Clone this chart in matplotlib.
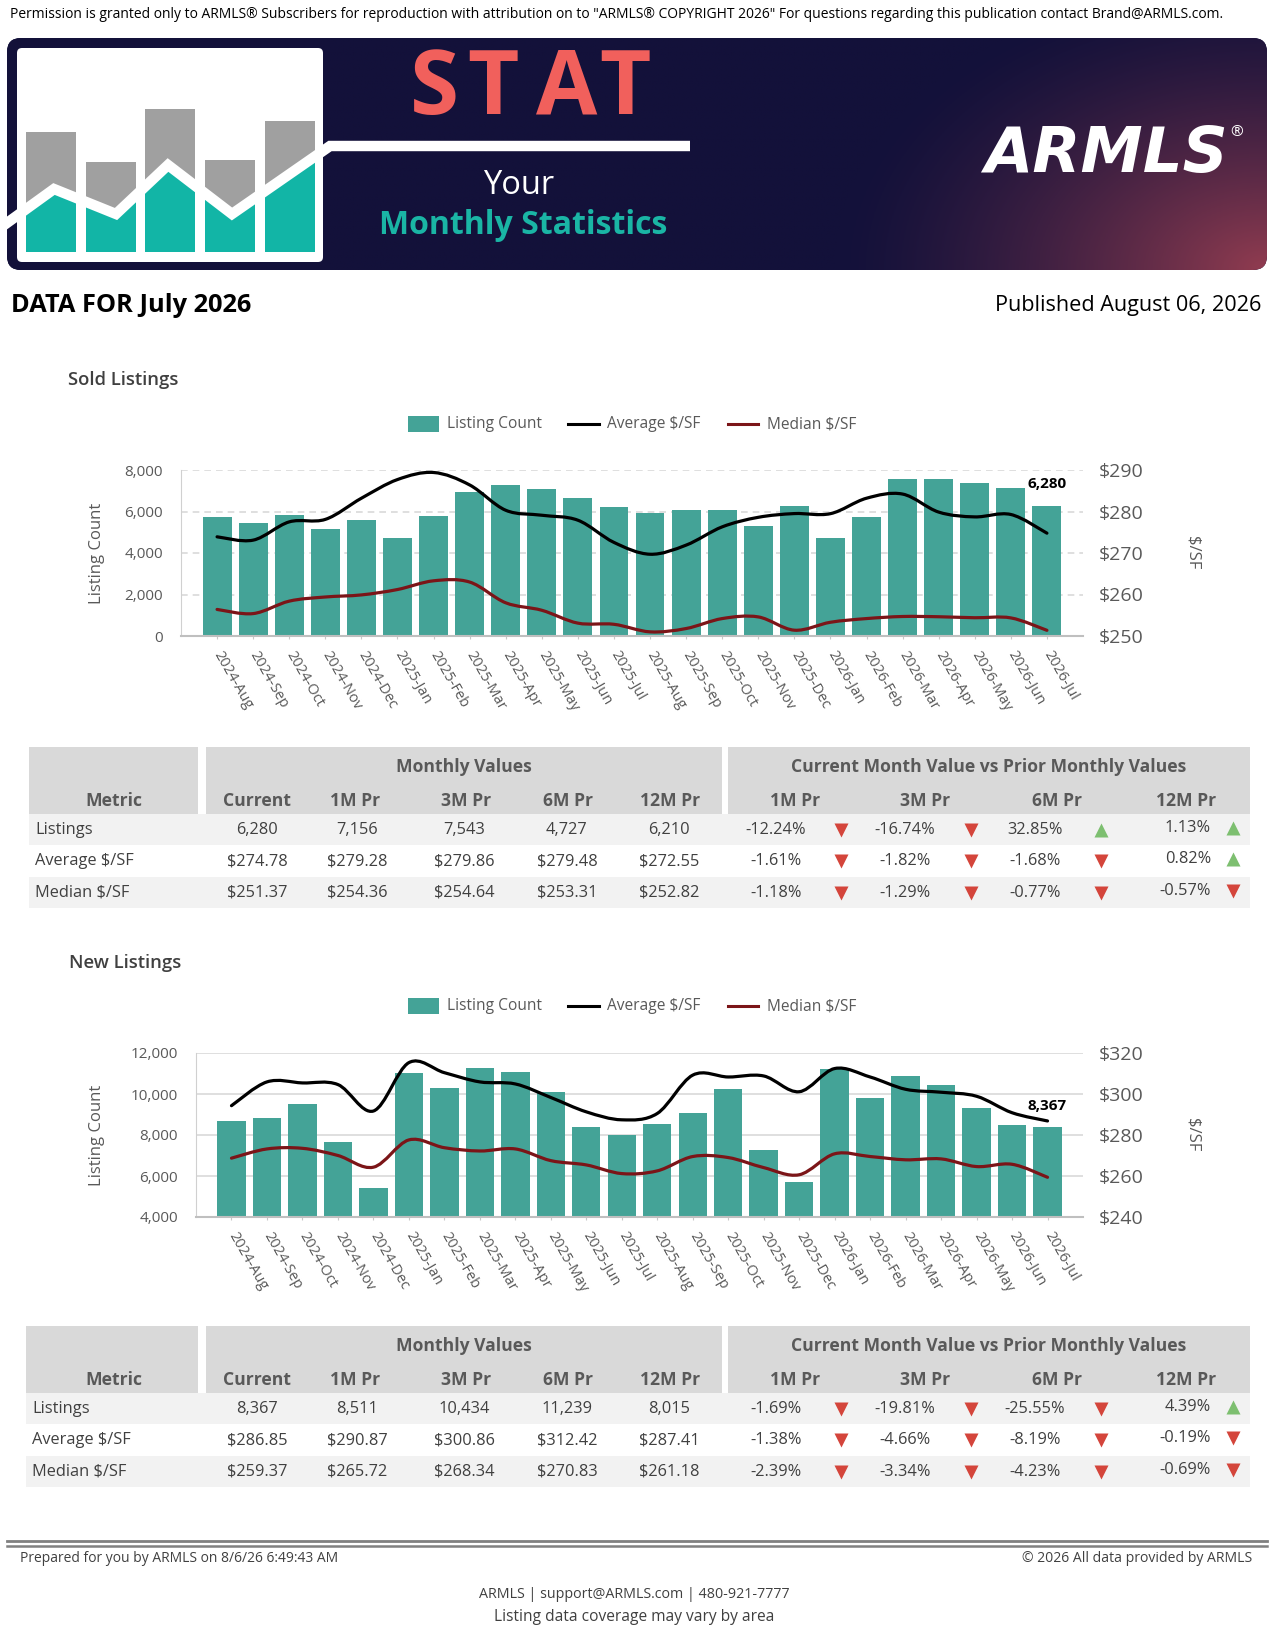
import numpy as np
import matplotlib
matplotlib.use('agg')
import matplotlib.pyplot as plt
from matplotlib.patches import Rectangle, FancyBboxPatch, PathPatch, Polygon
from matplotlib.path import Path

plt.rcParams['font.family'] = ['Open Sans', 'DejaVu Sans']

W, H = 1275, 1650
TEAL = '#44a397'
MAROON = '#7b1518'
GRAY_TXT = '#595959'
DARK_TXT = '#404040'

# ---- chart data ----
months = ['2024-Aug', '2024-Sep', '2024-Oct', '2024-Nov', '2024-Dec', '2025-Jan',
          '2025-Feb', '2025-Mar', '2025-Apr', '2025-May', '2025-Jun', '2025-Jul',
          '2025-Aug', '2025-Sep', '2025-Oct', '2025-Nov', '2025-Dec', '2026-Jan',
          '2026-Feb', '2026-Mar', '2026-Apr', '2026-May', '2026-Jun', '2026-Jul']

sold_count = [5730, 5440, 5830, 5150, 5590, 4720, 5780, 6940, 7280, 7090, 6650, 6210,
              5940, 6070, 6070, 5300, 6260, 4727, 5730, 7570, 7543, 7370, 7156, 6280]
sold_avg = [273.9, 273.1, 277.5, 278.1, 283.2, 287.7, 289.4, 286.4, 280.3, 279.1, 277.9, 272.55,
            269.7, 271.9, 276.3, 278.6, 279.5, 279.48, 283.2, 284.2, 279.86, 278.7, 279.28, 274.78]
sold_med = [256.4, 255.4, 258.4, 259.4, 259.9, 261.2, 263.3, 263.0, 258.0, 256.2, 253.1, 252.82,
            251.0, 251.8, 254.2, 254.6, 251.4, 253.31, 254.2, 254.7, 254.64, 254.4, 254.36, 251.37]

new_count = [8680, 8830, 9510, 7660, 5430, 11010, 10280, 11260, 11060, 10090, 8390, 8015,
             8530, 9070, 10230, 7270, 5720, 11239, 9800, 10870, 10434, 9310, 8511, 8367]
new_avg = [294.3, 305.9, 305.4, 304.6, 291.7, 315.3, 310.4, 305.9, 304.9, 298.3, 291.3, 287.41,
           290.5, 309.2, 308.3, 308.8, 301.1, 312.42, 308.3, 302.3, 300.86, 298.9, 290.87, 286.85]
new_med = [268.7, 273.2, 273.5, 270.0, 264.3, 277.6, 273.8, 272.2, 273.2, 267.5, 265.4, 261.18,
           262.5, 269.5, 269.0, 264.1, 260.6, 270.83, 269.5, 267.9, 268.34, 264.6, 265.72, 259.37]

# ---- table data ----
metrics = ['Listings', 'Average $/SF', 'Median $/SF']
value_cols = ['Current', '1M Pr', '3M Pr', '6M Pr', '12M Pr']
pct_cols = ['1M Pr', '3M Pr', '6M Pr', '12M Pr']

sold_listings = [6280, 7156, 7543, 4727, 6210]
sold_avg_tbl = [274.78, 279.28, 279.86, 279.48, 272.55]
sold_med_tbl = [251.37, 254.36, 254.64, 253.31, 252.82]
sold_listings_pct = [-12.24, -16.74, 32.85, 1.13]
sold_avg_pct = [-1.61, -1.82, -1.68, 0.82]
sold_med_pct = [-1.18, -1.29, -0.77, -0.57]

new_listings = [8367, 8511, 10434, 11239, 8015]
new_avg_tbl = [286.85, 290.87, 300.86, 312.42, 287.41]
new_med_tbl = [259.37, 265.72, 268.34, 270.83, 261.18]
new_listings_pct = [-1.69, -19.81, -25.55, 4.39]
new_avg_pct = [-1.38, -4.66, -8.19, -0.19]
new_med_pct = [-2.39, -3.34, -4.23, -0.69]

fig = plt.figure(figsize=(W / 100, H / 100), dpi=100)
page = fig.add_axes([0, 0, 1, 1])
page.set_xlim(0, W)
page.set_ylim(H, 0)
page.axis('off')


def fit_width(t, target):
    r = fig.canvas.get_renderer()
    w = t.get_window_extent(r).width
    t.set_fontsize(t.get_fontsize() * target / w)


# ---- top text ----
t = page.text(10, 14, 'Permission is granted only to ARMLS\u00ae Subscribers for reproduction with attribution on to '
              '"ARMLS\u00ae COPYRIGHT 2026" For questions regarding this publication contact Brand@ARMLS.com.',
              fontsize=10, va='center', ha='left', color='black')
fit_width(t, 1215)

# ---- banner ----
banner = FancyBboxPatch((7, 38), 1260, 232, boxstyle='round,pad=0,rounding_size=14',
                        fc='#13113a', ec='none')
page.add_patch(banner)
gx = np.linspace(7, 1267, 500)
gy = np.linspace(38, 270, 120)
GX, GY = np.meshgrid(gx, gy)
d = np.sqrt(((1267 - GX) / 430) ** 2 + ((270 - GY) / 290) ** 2)
tt = np.clip(1 - d, 0, 1) ** 1.4
navy = np.array([19, 17, 58]) / 255
wine = np.array([145, 60, 80]) / 255
img = navy[None, None, :] * (1 - tt[..., None]) + wine[None, None, :] * tt[..., None]
im = page.imshow(img, extent=(7, 1267, 270, 38), aspect='auto', zorder=1)
im.set_clip_path(banner)
page.set_xlim(0, W)
page.set_ylim(H, 0)

# logo box with little bar chart
page.add_patch(FancyBboxPatch((17, 48), 306, 214, boxstyle='round,pad=0,rounding_size=5',
                              fc='white', ec='none', zorder=2))
logo_x = [26, 86, 145, 205, 265]
logo_top = [132, 162, 109, 160, 121]
zig_x = [0, 54, 116, 168, 232, 330, 690]
zig_y = [228, 189, 214, 165, 214, 146, 146]
for lx, ltop in zip(logo_x, logo_top):
    r = Rectangle((lx, ltop), 50, 252 - ltop, fc='#a0a0a0', ec='none', zorder=3)
    page.add_patch(r)
    poly = Polygon(list(zip(zig_x, zig_y)) + [(690, 262), (0, 262)], closed=True,
                   fc='#12b5a6', ec='none', zorder=4)
    page.add_patch(poly)
    poly.set_clip_path(r)
page.plot(zig_x, zig_y, color='white', lw=7.5, solid_joinstyle='miter', solid_capstyle='butt', zorder=5)

for ch, cx in zip('STAT', [434, 493, 567, 625]):
    page.text(cx, 91, ch, fontsize=64, fontweight='bold', color='#f1605c', ha='center', va='center', zorder=6)
page.text(519, 185, 'Your', fontsize=23.5, color='white', ha='center', va='center', zorder=6)
page.text(523, 225, 'Monthly Statistics', fontsize=23, fontweight='bold', color='#1ab5a5',
          ha='center', va='center', zorder=6)
page.text(1106, 155, 'ARMLS', fontsize=45, fontweight='heavy', style='italic', color='white',
          family='DejaVu Sans', ha='center', va='center', zorder=6)
page.text(1237, 133, '\u00ae', fontsize=11, color='white', ha='center', va='center', zorder=6)

page.text(11, 306, 'DATA FOR July 2026', fontsize=18.3, fontweight='bold', color='black', va='center')
page.text(1261, 305, 'Published August 06, 2026', fontsize=15.6, color='black', va='center', ha='right')


# ---- charts ----
def smooth_path(xs, ys):
    pts = np.column_stack([xs, ys]).astype(float)
    n = len(pts)
    verts = [pts[0]]
    codes = [Path.MOVETO]
    for i in range(n - 1):
        p0 = pts[max(i - 1, 0)]
        p1 = pts[i]
        p2 = pts[i + 1]
        p3 = pts[min(i + 2, n - 1)]
        verts += [p1 + (p2 - p0) / 6, p2 - (p3 - p1) / 6, p2]
        codes += [Path.CURVE4] * 3
    return Path(verts, codes)


def legend(y):
    page.add_patch(Rectangle((408, y - 8), 31, 16, fc=TEAL, ec='none'))
    page.text(447, y, 'Listing Count', fontsize=11.2, color=GRAY_TXT, va='center')
    page.plot([568, 599], [y, y], color='black', lw=2.2)
    page.text(607, y, 'Average $/SF', fontsize=11.2, color=GRAY_TXT, va='center')
    page.plot([728, 758], [y, y], color=MAROON, lw=2.2)
    page.text(767, y, 'Median $/SF', fontsize=11.2, color=GRAY_TXT, va='center')


def chart(box, counts, avg, med, lticks, rticks, dashed):
    l, t, r, b = box
    ax = fig.add_axes([l / W, 1 - b / H, (r - l) / W, (b - t) / H])
    ax.patch.set_alpha(0)
    x = np.arange(len(months))
    ax.bar(x, counts, width=0.8, color=TEAL, zorder=2)
    ax.set_xlim(-1, len(months))
    ax.set_ylim(lticks[0], lticks[-1])
    ax.set_yticks(lticks)
    ax.set_yticklabels([f'{v:,}' for v in lticks])
    ax.yaxis.grid(True, color='#d9d9d9', lw=1.2, ls=(0, (4, 3)) if dashed else '-')
    ax.set_axisbelow(True)
    ax.tick_params(axis='y', length=0, pad=13, labelsize=11, labelcolor=GRAY_TXT)
    ax.set_xticks(x)
    ax.set_xticklabels(months, rotation=-60, ha='left', va='center', rotation_mode='anchor')
    ax.tick_params(axis='x', length=5, direction='inout', color='#c8c8c8', pad=9,
                   labelsize=10.5, labelcolor=GRAY_TXT)
    for s in ['top', 'right']:
        ax.spines[s].set_visible(False)
    ax.spines['left'].set_color('#d0d0d0')
    ax.spines['bottom'].set_color('#bfbfbf')
    ax.spines['bottom'].set_linewidth(1.5)

    ax2 = ax.twinx()
    ax2.set_ylim(rticks[0], rticks[-1])
    ax2.set_yticks(rticks)
    ax2.set_yticklabels([f'${v}' for v in rticks])
    ax2.tick_params(axis='y', length=0, pad=11, labelsize=14, labelcolor=GRAY_TXT)
    for s in ax2.spines.values():
        s.set_visible(False)
    ax2.add_patch(PathPatch(smooth_path(x, avg), fill=False, ec='black', lw=2.3, capstyle='round'))
    ax2.add_patch(PathPatch(smooth_path(x, med), fill=False, ec=MAROON, lw=2.3, capstyle='round'))
    ax2.text(x[-1], counts[-1] + 1030, f'{counts[-1]:,}', transform=ax.transData, fontsize=11,
             fontweight='bold', color='black', ha='center', va='center')
    cy = (t + b) / 2
    page.text(97, cy, 'Listing Count', rotation=90, fontsize=12, color=GRAY_TXT, ha='center', va='center')
    page.text(1192, cy, '$/SF', rotation=270, fontsize=12, color=GRAY_TXT, ha='center', va='center')
    return ax


page.text(68, 380, 'Sold Listings', fontsize=13.3, fontweight='semibold', color=DARK_TXT, va='center')
legend(424)
chart((181, 470, 1083, 636), sold_count, sold_avg, sold_med,
      [0, 2000, 4000, 6000, 8000], [250, 260, 270, 280, 290], True)

page.text(69, 963, 'New Listings', fontsize=13.3, fontweight='semibold', color=DARK_TXT, va='center')
legend(1006)
chart((196, 1053, 1083, 1217), new_count, new_avg, new_med,
      [4000, 6000, 8000, 10000, 12000], [240, 260, 280, 300, 320], False)

# ---- tables ----
val_cx = [257, 357, 464, 567, 669]
pct_cx = [776, 905, 1035]
tri_cx = [841, 971, 1101, 1233]
hdr_val_cx = [257, 355, 466, 568, 670]
hdr_pct_cx = [795, 925, 1057, 1186]


def table(top, x0, listings, avgs, meds, lpct, apct, mpct):
    hh, rh = 67, 31.3
    page.add_patch(Rectangle((x0, top), 198 - x0, hh, fc='#d9d9d9', ec='none'))
    page.add_patch(Rectangle((206, top), 516, hh, fc='#d9d9d9', ec='none'))
    page.add_patch(Rectangle((728, top), 522, hh, fc='#d9d9d9', ec='none'))
    hkw = dict(fontsize=12.6, fontweight='bold', color=GRAY_TXT, ha='center', va='center')
    page.text(464, top + 20, 'Monthly Values', **hkw)
    page.text(989, top + 20, 'Current Month Value vs Prior Monthly Values', **hkw)
    page.text(114, top + 54, 'Metric', **hkw)
    for cx, lab in zip(hdr_val_cx, value_cols):
        page.text(cx, top + 54, lab, **hkw)
    for cx, lab in zip(hdr_pct_cx, pct_cols):
        page.text(cx, top + 54, lab, **hkw)
    rows = [([f'{v:,}' for v in listings], lpct),
            ([f'${v:.2f}' for v in avgs], apct),
            ([f'${v:.2f}' for v in meds], mpct)]
    fs = 11.8
    for i, (name, (vals, pcts)) in enumerate(zip(metrics, rows)):
        ry = top + hh + rh * i
        cy = ry + rh / 2 + 0.5
        if i % 2 == 0:
            page.add_patch(Rectangle((x0, ry), 1250 - x0, rh, fc='#f2f2f2', ec='none'))
        page.text(x0 + 6, cy, name, fontsize=fs, color=DARK_TXT, va='center')
        for cx, v in zip(val_cx, vals):
            page.text(cx, cy, v, fontsize=fs, color=DARK_TXT, ha='center', va='center')
        for j, p in enumerate(pcts):
            s = f'{p:.2f}%'
            if j < 3:
                page.text(pct_cx[j], cy, s, fontsize=fs, color=DARK_TXT, ha='center', va='center')
            else:
                page.text(1211, cy - 2, s, fontsize=fs, color=DARK_TXT, ha='right', va='center')
            up = p > 0
            page.plot(tri_cx[j], cy - (2 if j == 3 else 0), marker='^' if up else 'v', ms=10.5,
                      color='#7dbf70' if up else '#d4453b', mec='none')


table(747, 29, sold_listings, sold_avg_tbl, sold_med_tbl, sold_listings_pct, sold_avg_pct, sold_med_pct)
table(1326, 26, new_listings, new_avg_tbl, new_med_tbl, new_listings_pct, new_avg_pct, new_med_pct)

# ---- footer ----
page.plot([7, 1267], [1541.3, 1541.3], color='#808080', lw=2.0)
page.plot([7, 1267], [1545.5, 1545.5], color='#808080', lw=1.8)
page.text(20, 1559, 'Prepared for you by ARMLS on 8/6/26 6:49:43 AM', fontsize=10, color=DARK_TXT, va='center')
page.text(1252, 1559, '\u00a9 2026 All data provided by ARMLS', fontsize=10.1, color=DARK_TXT,
          va='center', ha='right')
page.text(634, 1595, 'ARMLS | support@ARMLS.com | 480-921-7777', fontsize=10.3, color=DARK_TXT,
          ha='center', va='center')
page.text(634, 1617, 'Listing data coverage may vary by area', fontsize=11.2, color=DARK_TXT,
          ha='center', va='center')

fig.savefig('out.png', dpi=100)
